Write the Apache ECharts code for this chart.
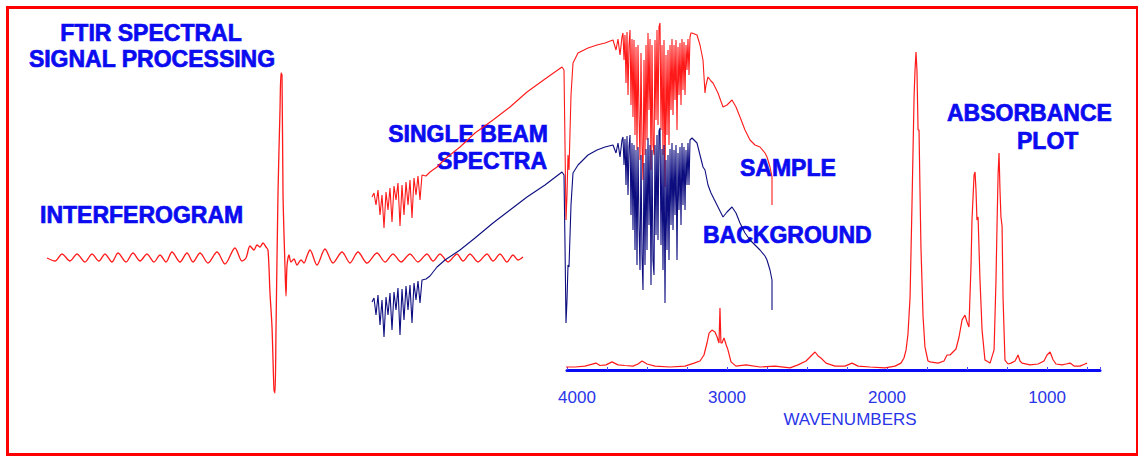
<!DOCTYPE html>
<html>
<head>
<meta charset="utf-8">
<script src="https://cdn.jsdelivr.net/npm/echarts@6/dist/echarts.min.js"></script>
<style>
html,body{margin:0;padding:0;background:#ffffff;}
#chart{width:1138px;height:456px;}
</style>
</head>
<body>
<div id="chart"></div>
<script>
// ---- Interferogram: [retardation index, detector signal (arb.)] ----
const interferogram = [
[-234,0],[-226,-3],[-219,4],[-211,-3],[-204,4],[-196,-4],[-189,4],[-182,-3],[-176,4],[-169,-4],
[-163,5],[-155,-4],[-148,5],[-141,-3],[-134,4],[-127,-4],[-121,3],[-115,-4],[-109,6],[-101,-4],
[-94,5],[-88,-4],[-81,5],[-73,-5],[-64,6],[-56,-6],[-46,10],[-39,-3],[-35,0],[-31,12],[-27,8],
[-24,13],[-21,11],[-18,15],[-15,11],[-13,8],[-11,-35],[-9,-69],[-7,-132],[-6,-135],[-5,-72],
[-3,65],[-1,148],[0,185],[1,183],[2,65],[4,-9],[5,-38],[6,-8],[8,3],[10,-4],[13,-1],[16,-7],
[20,-2],[23,-5],[26,2],[29,8],[36,-7],[44,9],[52,-5],[61,6],[69,-5],[77,6],[86,-5],[96,5],
[104,-4],[112,4],[120,-4],[129,4],[137,-4],[146,4],[152,-3],[159,4],[167,-4],[176,4],[182,-3],
[189,4],[197,-4],[206,4],[212,-3],[219,4],[226,-4],[232,3],[237,-2],[242,1]
];

// ---- Single beam spectra: [wavenumber, intensity (arb.)] ----
const sampleBeam = [
[3904,148],[3888,152],[3872,140],[3856,155],[3840,130],[3824,150],[3808,117],[3792,153],[3776,135],[3760,157],
[3744,123],[3728,159],[3712,145],[3696,162],[3680,119],[3664,160],[3648,130],[3632,163],[3616,140],[3600,165],
[3584,127],[3568,167],[3552,150],[3536,169],[3520,145],[3504,170],[3472,169],[3440,173],[3384,178],[3320,186],
[3200,198],[3080,212],[2936,225],[2800,238],[2664,253],[2520,266],[2384,278],[2368,275],[2360,200],[2352,125],
[2344,150],[2336,190],[2328,175],[2312,250],[2296,282],[2256,292],[2176,297],[2104,300],[2040,302],[1976,305],
[1952,295],[1936,306],[1920,290],[1904,308],
[1896,312],[1888,285],[1880,310],[1872,262],[1864,313],[1856,250],[1848,300],[1840,315],[1832,240],[1824,306],
[1816,228],[1808,305],[1800,210],[1792,298],[1784,195],[1776,300],[1768,230],[1760,185],[1752,292],[1744,200],
[1736,165],[1728,285],[1720,190],[1712,300],[1704,205],[1696,312],[1688,235],[1680,306],[1672,175],[1664,300],
[1656,200],[1648,190],[1640,305],[1632,225],[1624,315],[1616,220],[1608,318],[1600,322],[1592,215],[1584,300],
[1576,190],[1568,305],[1560,158],[1552,290],[1544,210],[1536,295],[1528,200],[1520,300],[1512,235],[1504,306],
[1496,230],[1488,300],[1480,245],[1472,305],[1464,215],[1456,298],[1448,250],[1440,302],[1432,240],[1424,306],
[1416,255],[1408,303],[1400,250],[1392,300],[1384,275],[1376,306],[1368,270],[1360,308],[1352,312],
[1344,312],[1304,310],[1280,300],[1256,285],[1240,252],[1232,260],[1216,268],[1192,264],[1176,262],[1136,252],
[1096,238],[1064,240],[1024,245],[992,238],[960,228],[920,215],[880,205],[840,200],[800,198],[760,192],
[744,188],[720,178],[704,168],[704,140]
];
const backgroundBeam = [
[3904,43],[3888,47],[3872,30],[3856,50],[3840,20],[3824,45],[3808,8],[3792,48],[3776,30],[3760,52],
[3744,15],[3728,53],[3712,35],[3696,57],[3680,10],[3664,56],[3648,25],[3632,59],[3616,35],[3600,60],
[3584,22],[3568,62],[3552,45],[3536,64],[3520,42],[3504,65],[3472,66],[3440,69],[3384,78],[3320,85],
[3200,95],[3080,107],[2936,122],[2800,135],[2664,148],[2520,160],[2384,173],[2368,170],[2360,100],[2352,22],
[2344,45],[2336,80],[2328,78],[2312,140],[2296,172],[2256,180],[2176,190],[2104,195],[2040,198],[1976,200],
[1952,192],[1936,202],[1920,188],[1904,205],
[1896,208],[1888,180],[1880,206],[1872,160],[1864,209],[1856,150],[1848,198],[1840,210],[1832,130],[1824,202],
[1816,115],[1808,200],[1800,95],[1792,195],[1784,80],[1776,198],[1768,120],[1760,75],[1752,190],[1744,90],
[1736,55],[1728,182],[1720,80],[1712,196],[1704,95],[1696,207],[1688,120],[1680,200],[1672,60],[1664,195],
[1656,85],[1648,70],[1640,200],[1632,110],[1624,210],[1616,105],[1608,214],[1600,217],[1592,100],[1584,196],
[1576,75],[1568,200],[1560,42],[1552,185],[1544,95],[1536,190],[1528,85],[1520,196],[1512,120],[1504,202],
[1496,115],[1488,195],[1480,130],[1472,200],[1464,85],[1456,192],[1448,135],[1440,198],[1432,120],[1424,202],
[1416,140],[1408,198],[1400,135],[1392,195],[1384,160],[1376,202],[1368,160],[1360,205],[1352,206],
[1344,207],[1304,202],[1280,190],[1256,178],[1240,175],[1216,160],[1192,152],[1176,148],[1136,138],[1096,128],
[1064,133],[1024,138],[992,132],[960,122],[920,112],[880,105],[840,100],[800,95],[760,89],[744,85],
[720,75],[704,65],[704,35]
];

// ---- Absorbance spectrum: [wavenumber, absorbance] ----
const absorbance = [
[4025,0.01],[3950,0.01],[3888,0.013],[3819,0.023],[3794,0.015],[3756,0.017],[3719,0.027],[3681,0.017],
[3638,0.015],[3588,0.013],[3556,0.02],[3531,0.03],[3500,0.02],[3450,0.013],[3356,0.01],[3263,0.013],
[3206,0.023],[3169,0.03],[3144,0.05],[3125,0.09],[3112,0.123],[3094,0.133],[3075,0.127],[3062,0.11],
[3050,0.09],[3044,0.207],[3038,0.09],[3031,0.09],[3019,0.107],[3006,0.085],[2994,0.067],[2975,0.027],
[2944,0.013],[2881,0.017],[2794,0.01],[2700,0.013],[2606,0.007],[2556,0.017],[2506,0.03],[2469,0.05],
[2450,0.06],[2431,0.047],[2413,0.04],[2381,0.023],[2325,0.013],[2263,0.013],[2219,0.023],[2181,0.013],
[2106,0.01],[2013,0.007],[1950,0.013],[1913,0.023],[1894,0.04],[1881,0.067],[1869,0.12],[1856,0.243],
[1844,0.55],[1831,0.91],[1825,1.0],[1819,1.06],[1813,1.0],[1806,0.8],[1800,0.8],[1794,0.6],
[1788,0.41],[1775,0.18],[1763,0.077],[1744,0.03],[1731,0.027],[1681,0.023],[1644,0.03],[1625,0.05],
[1606,0.05],[1588,0.06],[1569,0.07],[1550,0.11],[1531,0.167],[1513,0.183],[1500,0.16],[1488,0.143],
[1475,0.35],[1469,0.5],[1456,0.65],[1450,0.66],[1444,0.6],[1438,0.5],[1431,0.51],[1419,0.3],
[1406,0.133],[1388,0.033],[1356,0.023],[1331,0.067],[1319,0.3],[1313,0.47],[1306,0.65],[1300,0.723],
[1294,0.6],[1288,0.51],[1281,0.48],[1275,0.243],[1263,0.033],[1244,0.02],[1225,0.023],[1200,0.03],
[1181,0.05],[1169,0.03],[1156,0.023],[1106,0.017],[1056,0.02],[1019,0.03],[1000,0.05],[981,0.06],
[963,0.035],[944,0.02],[906,0.017],[881,0.02],[856,0.023],[831,0.013],[794,0.013],[763,0.02],[750,0.023]
];

// ---- Axis tick labels shown on the wavenumber axis ----
const wavenumberTicks = [4000, 3000, 2000, 1000];

const TEXT_BLUE = '#0b0bf0';
const AXIS_BLUE = '#0a0af5';
const LABEL_BLUE = '#2a35e8';
const RED = '#ff1a1a';
const NAVY = '#0d0d80';
const boldFont = 'bold 23px "Liberation Sans", Arial, sans-serif';

function txt(text, x, y, align) {
  return {type:'text', x:x, y:y, z:0,
    style:{text:text, fill:TEXT_BLUE, stroke:TEXT_BLUE, lineWidth:0.7,
      font:boldFont, align:align, verticalAlign:'middle'}};
}

const chart = echarts.init(document.getElementById('chart'), null, {renderer:'svg'});
chart.setOption({
  animation:false,
  backgroundColor:'#ffffff',
  grid:[
    {left:47, top:58, width:476, height:380},
    {left:372, top:15, width:400, height:330},
    {left:567, top:40, width:533, height:330}
  ],
  xAxis:[
    {gridIndex:0, type:'value', min:-234, max:242, show:false},
    {gridIndex:1, type:'value', min:704, max:3904, inverse:true, show:false},
    {gridIndex:2, type:'value', min:669, max:4000, inverse:true, splitNumber:3,
      minInterval:1000, maxInterval:1000, offset:13,
      axisLine:{show:true, lineStyle:{color:AXIS_BLUE, width:3}},
      axisTick:{show:true, inside:true, length:3, lineStyle:{color:'#4a4aff', width:1}},
      minorTick:{show:true, splitNumber:4, length:3, lineStyle:{color:'#4a4aff', width:1}},
      splitLine:{show:false},
      axisLabel:{
        margin:6, color:LABEL_BLUE, fontSize:17, fontFamily:'"Liberation Sans", Arial, sans-serif',
        formatter:function(v){
          if (v === wavenumberTicks[0]) return '{s|' + v + '}';
          return wavenumberTicks.indexOf(v) >= 0 ? String(v) : '';
        },
        rich:{s:{padding:[0,0,0,20], color:LABEL_BLUE, fontSize:17, fontFamily:'"Liberation Sans", Arial, sans-serif'}}
      },
      name:'WAVENUMBERS', nameLocation:'middle', nameGap:24,
      nameTextStyle:{color:LABEL_BLUE, fontSize:17, fontFamily:'"Liberation Sans", Arial, sans-serif', padding:[0,0,0,33]}
    }
  ],
  yAxis:[
    {gridIndex:0, type:'value', min:-180, max:200, show:false},
    {gridIndex:1, type:'value', min:0, max:330, show:false},
    {gridIndex:2, type:'value', min:0, max:1.1, show:false}
  ],
  series:[
    {name:'Interferogram', type:'line', xAxisIndex:0, yAxisIndex:0, data:interferogram,
      showSymbol:false, smooth:0.3, lineStyle:{color:RED, width:1.3}, clip:false},
    {name:'Sample', type:'line', xAxisIndex:1, yAxisIndex:1, data:sampleBeam,
      showSymbol:false, lineStyle:{color:RED, width:1.1}, clip:false},
    {name:'Background', type:'line', xAxisIndex:1, yAxisIndex:1, data:backgroundBeam,
      showSymbol:false, lineStyle:{color:NAVY, width:1.1}, clip:false},
    {name:'Absorbance', type:'line', xAxisIndex:2, yAxisIndex:2, data:absorbance,
      showSymbol:false, lineStyle:{color:RED, width:1.2}, clip:false}
  ],
  graphic:[
    {type:'rect', z:100, shape:{x:7.5, y:7.5, width:1130, height:447},
      style:{fill:'none', stroke:'#ff0000', lineWidth:3}},
    txt('FTIR SPECTRAL', 151, 33, 'center'),
    txt('SIGNAL PROCESSING', 152, 59, 'center'),
    txt('INTERFEROGRAM', 40, 215, 'left'),
    txt('SINGLE BEAM', 548, 134, 'right'),
    txt('SPECTRA', 547, 161, 'right'),
    txt('SAMPLE', 740, 168, 'left'),
    txt('BACKGROUND', 703, 235, 'left'),
    txt('ABSORBANCE', 947, 113, 'left'),
    txt('PLOT', 1017, 141, 'left')
  ]
});
</script>
</body>
</html>
